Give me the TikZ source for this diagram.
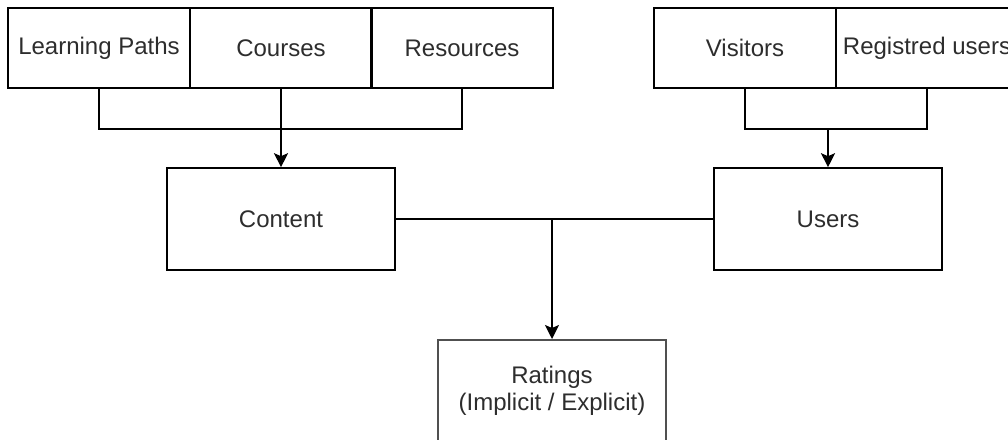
\documentclass[tikz,border=0pt]{standalone}
\usepackage{fontspec}
\setmainfont{Liberation Sans}
\usepackage{tikz}
\usetikzlibrary{arrows.meta, positioning}
\usepackage{xcolor}
\definecolor{boxText}{RGB}{45, 45, 45}
\definecolor{rateEdge}{RGB}{80, 80, 80}

\begin{document}
\begin{tikzpicture}[x=1pt, y=-1pt, >={Stealth[length=14pt, width=14pt, inset=3pt]},
    box/.style={draw, line width=1.6pt, inner sep=0pt, text=boxText,
      font=\fontsize{24}{27}\selectfont, minimum width=182pt, minimum height=80pt},
    bigbox/.style={box, minimum width=228pt, minimum height=102pt},
    wire/.style={line width=1.6pt}]
  \useasboundingbox (0,0) rectangle (1008,439);
  \clip (0,0) rectangle (1008,439);

  % Content sources
  \node[box] (lp)  at (99, 48)  {Learning Paths};
  \node[box] (crs) at (281, 48) {Courses};
  \node[box] (res) at (462, 48) {Resources};

  % User groups
  \node[box] (vis) at (745, 48) {Visitors};
  \node[box] (reg) at (927, 48) {Registred users};

  % Content and users
  \node[bigbox] (content) at (281, 219) {Content};
  \node[bigbox] (users)   at (828, 219) {Users};

  % Ratings
  \node[bigbox, draw=rateEdge, line width=2pt, align=center] (rat) at (552, 391)
    {Ratings\\(Implicit / Explicit)};

  % Sources -> content
  \coordinate (cjoin) at (crs.south |- 0, 129);
  \draw[wire] (lp.south) |- (cjoin) -| (res.south);
  \draw[wire, ->] (crs.south) -- (content.north);

  % Groups -> users
  \coordinate (ujoin) at (users.north |- 0, 129);
  \draw[wire] (vis.south) |- (ujoin) -| (reg.south);
  \draw[wire, ->] (ujoin) -- (users.north);

  % Content + users -> ratings
  \coordinate (rjoin) at (rat.north |- content.east);
  \draw[wire] (content.east) -- (users.west);
  \draw[wire, ->] (rjoin) -- (rat.north);
\end{tikzpicture}
\end{document}
